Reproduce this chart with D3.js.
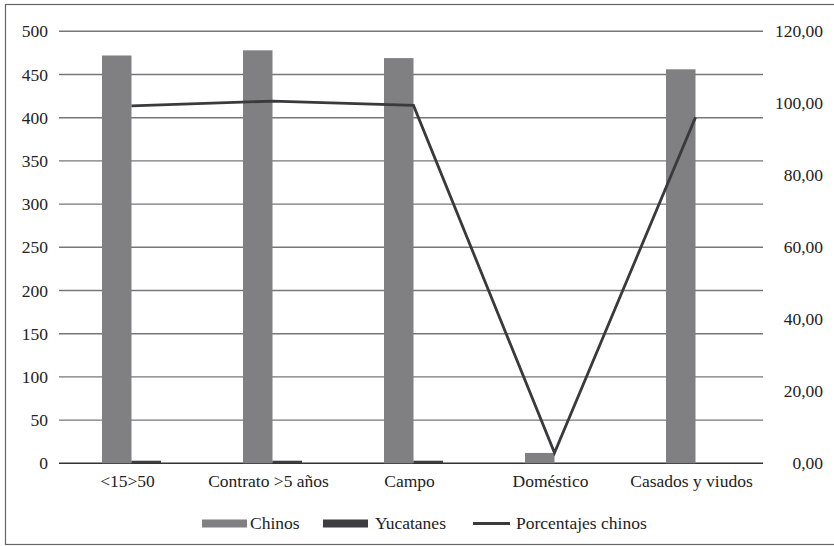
<!DOCTYPE html>
<html>
<head>
<meta charset="utf-8">
<script src="https://cdn.jsdelivr.net/npm/d3@7"></script>
<style>
  body { margin: 0; background: #fff; }
</style>
</head>
<body>
<div id="chart"></div>
<script>
// data
var categories = ["<15>50", "Contrato >5 años", "Campo", "Doméstico", "Casados y viudos"];
var chinos = [472, 478, 469, 12, 456];
var yucatanes = [3, 3, 3, 0, 0];
var porcentajes = [99.3, 100.6, 99.4, 2.9, 96.1];
var leftTicks = [0, 50, 100, 150, 200, 250, 300, 350, 400, 450, 500];
var rightTicks = [0, 20, 40, 60, 80, 100, 120];

var FONT = "'Liberation Serif', 'Times New Roman', serif";
var FS = "17.5px";

var w = 834, h = 546;
var svg = d3.select("#chart").append("svg")
    .attr("width", w)
    .attr("height", h);

// frame
svg.append("rect")
    .attr("x", 5.5).attr("y", 4.5)
    .attr("width", 840).attr("height", 540)
    .attr("fill", "none")
    .attr("stroke", "#666")
    .attr("stroke-width", 1.2);

var x = d3.scaleBand().domain(categories).range([57, 762]);
var yL = d3.scaleLinear().domain([0, 500]).range([463.3, 31.3]);
var yR = d3.scaleLinear().domain([0, 120]).range([463.3, 31.3]);

var barW = 29.5;
function center(c) { return x(c) + x.bandwidth() / 2; }

// gridlines
svg.selectAll("line.grid")
    .data(leftTicks)
    .enter()
    .append("line")
    .attr("class", "grid")
    .attr("x1", 59).attr("x2", 763)
    .attr("y1", function(d) { return yL(d); })
    .attr("y2", function(d) { return yL(d); })
    .attr("stroke", function(d) { return d === 0 ? "#333" : "#777"; })
    .attr("stroke-width", 1.4);

function styleText(sel) {
    sel.style("font-family", FONT).style("font-size", FS).attr("fill", "#222");
}

// left axis
var left = svg.append("g")
    .attr("transform", "translate(48,0)")
    .call(d3.axisLeft(yL).tickValues(leftTicks).tickSize(0).tickPadding(0));
left.select(".domain").remove();
styleText(left.selectAll("text"));

// right axis
var right = svg.append("g")
    .attr("transform", "translate(823,0)")
    .call(d3.axisLeft(yR).tickValues(rightTicks).tickSize(0).tickPadding(0)
        .tickFormat(function(d) { return d3.format(".2f")(d).replace(".", ","); }));
right.select(".domain").remove();
styleText(right.selectAll("text"));

// bottom labels
var bottom = svg.append("g")
    .attr("transform", "translate(0,472)")
    .call(d3.axisBottom(x).tickSize(0).tickPadding(0));
bottom.select(".domain").remove();
styleText(bottom.selectAll("text"));
bottom.selectAll("text").attr("dy", "0.85em");

// bars
svg.selectAll("rect.chinos")
    .data(categories)
    .enter()
    .append("rect")
    .attr("class", "chinos")
    .attr("x", function(d) { return center(d) - 25.5; })
    .attr("width", barW)
    .attr("y", function(d, i) { return yL(chinos[i]); })
    .attr("height", function(d, i) { return yL(0) - yL(chinos[i]); })
    .attr("fill", "#808083");

svg.selectAll("rect.yuc")
    .data(categories)
    .enter()
    .append("rect")
    .attr("class", "yuc")
    .attr("x", function(d) { return center(d) - 25.5 + barW; })
    .attr("width", barW)
    .attr("y", function(d, i) { return yL(yucatanes[i]); })
    .attr("height", function(d, i) { return yL(0) - yL(yucatanes[i]); })
    .attr("fill", "#3d3d3f");

// percentage line
var line = d3.line()
    .x(function(d, i) { return center(categories[i]) + 4; })
    .y(function(d) { return yR(d); });
svg.append("path")
    .datum(porcentajes)
    .attr("d", line)
    .attr("fill", "none")
    .attr("stroke", "#3a3a3c")
    .attr("stroke-width", 2.8);

// legend
var legend = svg.append("g");
legend.append("rect").attr("x", 202).attr("y", 519.5).attr("width", 45).attr("height", 8).attr("fill", "#808083");
legend.append("text").attr("x", 250).attr("y", 529).text("Chinos");
legend.append("rect").attr("x", 323).attr("y", 519.5).attr("width", 45).attr("height", 8).attr("fill", "#3d3d3f");
legend.append("text").attr("x", 375).attr("y", 529).text("Yucatanes");
legend.append("line").attr("x1", 473).attr("x2", 510).attr("y1", 523.5).attr("y2", 523.5)
    .attr("stroke", "#3a3a3c").attr("stroke-width", 2.8);
legend.append("text").attr("x", 516).attr("y", 529).text("Porcentajes chinos");
styleText(legend.selectAll("text"));
</script>
</body>
</html>
